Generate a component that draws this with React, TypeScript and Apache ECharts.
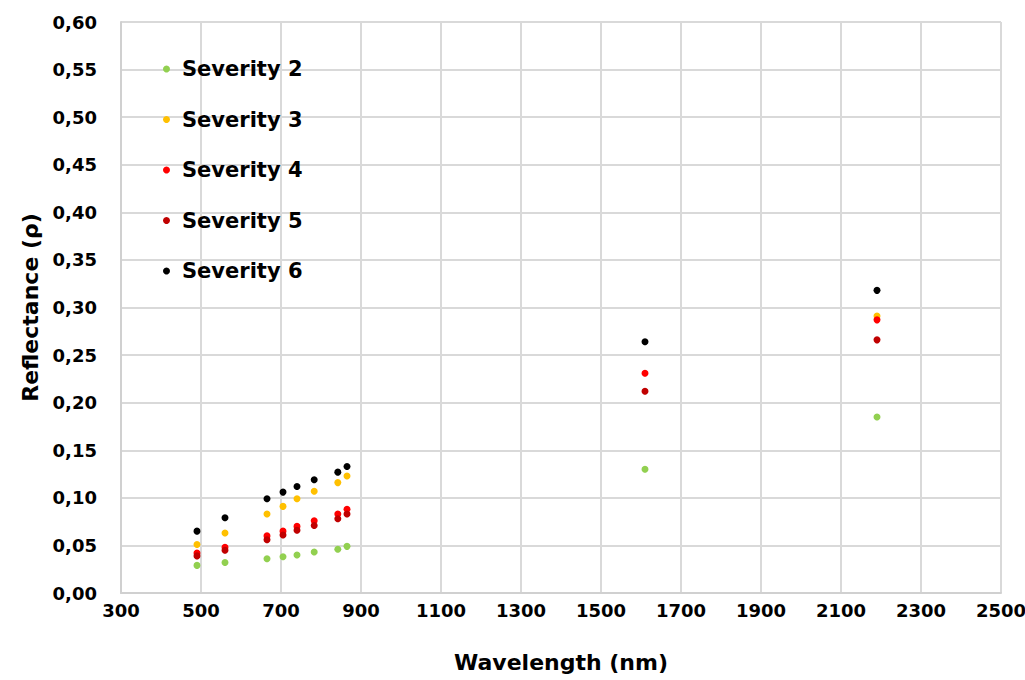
import React, { useEffect, useRef } from "react";
import * as echarts from "echarts";

const wavelengths = [490, 560, 665, 705, 740, 783, 842, 865, 1610, 2190];
const seriesNames = ["Severity 2", "Severity 3", "Severity 4", "Severity 5", "Severity 6"];
const seriesColors = ["#92D050", "#FFC000", "#FF0000", "#C00000", "#000000"];
const severity2 = [0.029, 0.032, 0.036, 0.038, 0.040, 0.043, 0.046, 0.049, 0.130, 0.185];
const severity3 = [0.051, 0.063, 0.083, 0.091, 0.099, 0.107, 0.116, 0.123, null, 0.291];
const severity4 = [0.042, 0.048, 0.060, 0.065, 0.070, 0.076, 0.083, 0.088, 0.231, 0.287];
const severity5 = [0.039, 0.045, 0.056, 0.061, 0.066, 0.071, 0.078, 0.083, 0.212, 0.266];
const severity6 = [0.065, 0.079, 0.099, 0.106, 0.112, 0.119, 0.127, 0.133, 0.264, 0.318];
const seriesValues = [severity2, severity3, severity4, severity5, severity6];
const xMin = 300, xMax = 2500, xStep = 200;
const yMin = 0, yMax = 0.6, yStep = 0.05;

const FONT = "'DejaVu Sans', 'Noto Sans', sans-serif";

export default function App() {
  const ref = useRef<HTMLDivElement>(null);
  useEffect(() => {
    if (!ref.current) return;
    const chart = echarts.init(ref.current, undefined, { renderer: "svg" });
    chart.setOption({
      animation: false,
      backgroundColor: "#ffffff",
      grid: { left: 121, right: 24, top: 22, bottom: 87, containLabel: false, outerBoundsMode: "none" },
      legend: {
        orient: "vertical",
        left: 158,
        top: 52,
        icon: "circle",
        itemWidth: 7,
        itemHeight: 7,
        itemGap: 26.5,
        data: seriesNames,
        textStyle: { fontFamily: FONT, fontWeight: "bold", fontSize: 21, color: "#000", lineHeight: 24, padding: [0, 0, 0, 7] },
      },
      xAxis: {
        type: "value",
        min: xMin,
        max: xMax,
        interval: xStep,
        name: "Wavelength (nm)",
        nameLocation: "middle",
        nameGap: 58,
        nameTextStyle: { fontFamily: FONT, fontWeight: "bold", fontSize: 22, color: "#000" },
        axisLine: { show: true, lineStyle: { color: "#d0d0d0", width: 2 } },
        axisTick: { show: false },
        axisLabel: {
          fontFamily: FONT,
          fontWeight: "bold",
          fontSize: 18,
          color: "#000",
          margin: 8,
          formatter: (v: number) => String(v),
        },
        splitLine: { show: true, lineStyle: { color: "#d9d9d9", width: 2 } },
      },
      yAxis: {
        type: "value",
        min: yMin,
        max: yMax,
        interval: yStep,
        name: "Reflectance (ρ)",
        nameLocation: "middle",
        nameGap: 80,
        nameTextStyle: { fontFamily: FONT, fontWeight: "bold", fontSize: 22, color: "#000" },
        axisLine: { show: true, lineStyle: { color: "#d0d0d0", width: 2 } },
        axisTick: { show: false },
        axisLabel: {
          fontFamily: FONT,
          fontWeight: "bold",
          fontSize: 18,
          color: "#000",
          margin: 24,
          formatter: (v: number) => v.toFixed(2).replace(".", ","),
        },
        splitLine: { show: true, lineStyle: { color: "#d9d9d9", width: 2 } },
      },
      series: seriesNames.map((name, i) => ({
        name,
        type: "scatter",
        symbol: "circle",
        symbolSize: 7,
        itemStyle: { color: seriesColors[i], opacity: 1 },
        data: wavelengths
          .map((w, j) => [w, seriesValues[i][j]])
          .filter((d) => d[1] !== null),
      })),
    });
    return () => chart.dispose();
  }, []);
  return (
    <div
      ref={ref}
      style={{ position: "absolute", left: 0, top: 0, width: 1025, height: 680 }}
    />
  );
}
